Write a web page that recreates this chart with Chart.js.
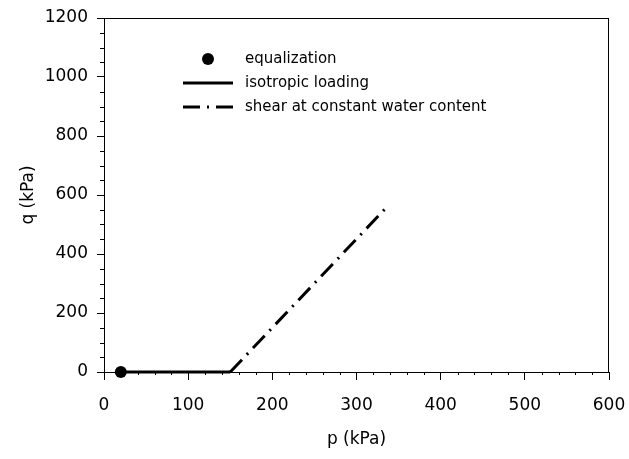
<!DOCTYPE html>
<html>
<head>
<meta charset="utf-8">
<script src="https://cdn.jsdelivr.net/npm/chart.js@4.4.0/dist/chart.umd.min.js"></script>
<style>
  html, body { margin: 0; padding: 0; background: #fff; }
  #wrap { width: 629px; height: 459px; }
</style>
</head>
<body>
<div id="wrap"><canvas id="pqChart"></canvas></div>
<script>
// p-q stress path
const equalP = [20];
const equalQ = [0];
const isoP = [20, 150];
const isoQ = [0, 0];
const shearP = [150, 338];
const shearQ = [0, 565];

const xTicks = [0, 100, 200, 300, 400, 500, 600];
const yTicks = [0, 200, 400, 600, 800, 1000, 1200];

const seriesNames = ['equalization', 'isotropic loading', 'shear at constant water content'];

function toPoints(xs, ys) {
  return xs.map(function(x, i) { return { x: x, y: ys[i] }; });
}

const dashDot = [17, 7, 2, 7];

// minor ticks + top/right frame
const framePlugin = {
  id: 'frame',
  afterDraw: function(chart) {
    const ctx = chart.ctx;
    const a = chart.chartArea;
    const xs = chart.scales.x;
    const ys = chart.scales.y;
    ctx.save();
    ctx.strokeStyle = '#000';
    ctx.lineWidth = 1;
    ctx.beginPath();
    ctx.moveTo(a.left, a.top + 0.5);
    ctx.lineTo(a.right, a.top + 0.5);
    ctx.moveTo(a.right - 0.5, a.top);
    ctx.lineTo(a.right - 0.5, a.bottom);
    for (let v = 20; v < 600; v += 20) {
      if (v % 100 === 0) continue;
      const px = Math.round(xs.getPixelForValue(v)) + 0.5;
      ctx.moveTo(px, a.bottom);
      ctx.lineTo(px, a.bottom + 3);
    }
    for (let v = 50; v < 1200; v += 50) {
      if (v % 200 === 0) continue;
      const py = Math.round(ys.getPixelForValue(v)) + 0.5;
      ctx.moveTo(a.left, py);
      ctx.lineTo(a.left - 4, py);
    }
    ctx.stroke();
    ctx.restore();
  }
};

// legend drawn inside the plot
const legendPlugin = {
  id: 'innerLegend',
  afterDatasetsDraw: function(chart) {
    const ctx = chart.ctx;
    const rows = [59, 83, 107];
    ctx.save();
    ctx.fillStyle = '#000';
    ctx.strokeStyle = '#000';
    ctx.beginPath();
    ctx.arc(208, rows[0], 6, 0, Math.PI * 2);
    ctx.fill();
    ctx.lineWidth = 3;
    ctx.beginPath();
    ctx.moveTo(183, rows[1]);
    ctx.lineTo(233, rows[1]);
    ctx.stroke();
    ctx.setLineDash(dashDot);
    ctx.beginPath();
    ctx.moveTo(183, rows[2]);
    ctx.lineTo(233, rows[2]);
    ctx.stroke();
    ctx.setLineDash([]);
    ctx.font = '15px "DejaVu Sans"';
    ctx.textBaseline = 'middle';
    ctx.textAlign = 'left';
    seriesNames.forEach(function(name, i) {
      ctx.fillText(name, 245, rows[i]);
    });
    ctx.restore();
  }
};

const ctx = document.getElementById('pqChart').getContext('2d');
const pqChart = new Chart(ctx, {
  type: 'scatter',
  data: {
    datasets: [{
      label: seriesNames[0],
      data: toPoints(equalP, equalQ),
      showLine: false,
      clip: false,
      pointRadius: 6,
      pointBackgroundColor: '#000',
      pointBorderColor: '#000',
      pointBorderWidth: 0
    }, {
      label: seriesNames[1],
      data: toPoints(isoP, isoQ),
      showLine: true,
      clip: false,
      borderColor: '#000',
      borderWidth: 3,
      pointRadius: 0
    }, {
      label: seriesNames[2],
      data: toPoints(shearP, shearQ),
      showLine: true,
      clip: false,
      borderColor: '#000',
      borderWidth: 3,
      borderDash: dashDot,
      pointRadius: 0
    }]
  },
  options: {
    responsive: true,
    maintainAspectRatio: false,
    animation: false,
    layout: { padding: { top: 18, right: 20, left: 0, bottom: 0 } },
    plugins: {
      legend: { display: false },
      tooltip: { enabled: false }
    },
    scales: {
      x: {
        type: 'linear',
        min: 0,
        max: 600,
        afterBuildTicks: function(scale) {
          scale.ticks = xTicks.map(function(v) { return { value: v }; });
        },
        afterFit: function(scale) {
          scale.height = 87;
          scale.paddingLeft = 0;
          scale.paddingRight = 0;
        },
        grid: {
          drawOnChartArea: false,
          drawTicks: true,
          tickLength: 8,
          tickColor: '#000',
          color: '#000'
        },
        border: { color: '#000', width: 1 },
        ticks: {
          color: '#000',
          padding: 15,
          maxRotation: 0,
          callback: function(v) { return String(v); },
          font: { family: 'DejaVu Sans', size: 17 }
        },
        title: {
          display: true,
          text: 'p (kPa)',
          color: '#000',
          font: { family: 'DejaVu Sans', size: 17 },
          padding: { top: 0, bottom: 9 }
        }
      },
      y: {
        type: 'linear',
        min: 0,
        max: 1200,
        afterBuildTicks: function(scale) {
          scale.ticks = yTicks.map(function(v) { return { value: v }; });
        },
        afterFit: function(scale) {
          scale.width = 104;
          scale.paddingTop = 0;
          scale.paddingBottom = 0;
        },
        grid: {
          drawOnChartArea: false,
          drawTicks: true,
          tickLength: 7,
          tickColor: '#000',
          color: '#000'
        },
        border: { color: '#000', width: 1 },
        ticks: {
          color: '#000',
          padding: 9,
          callback: function(v) { return String(v); },
          font: { family: 'DejaVu Sans', size: 17 }
        },
        title: {
          display: true,
          text: 'q (kPa)',
          color: '#000',
          font: { family: 'DejaVu Sans', size: 17 },
          padding: { top: 18, bottom: 0 }
        }
      }
    }
  },
  plugins: [framePlugin, legendPlugin]
});
</script>
</body>
</html>
